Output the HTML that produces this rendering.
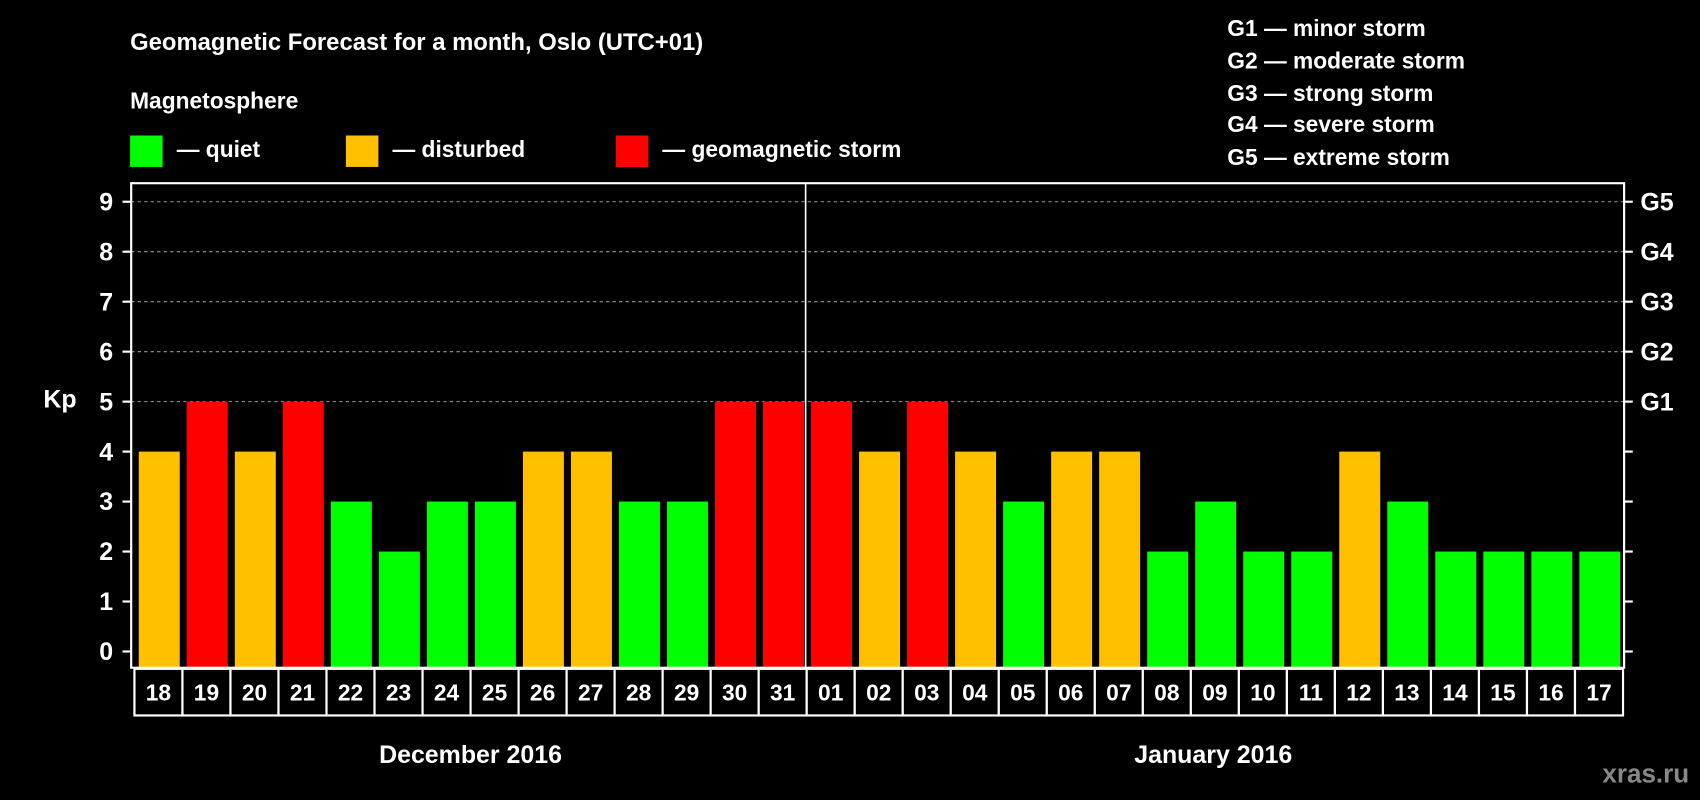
<!DOCTYPE html>
<html><head><meta charset="utf-8"><style>
html,body{margin:0;padding:0;background:#000;}
svg{display:block;font-family:"Liberation Sans",Arial,sans-serif;font-weight:bold;}
</style></head><body>
<svg id="chart" width="1700" height="800" viewBox="0 0 1568 738" preserveAspectRatio="none" xmlns="http://www.w3.org/2000/svg">
<rect x="0" y="0" width="1568" height="738" fill="#000"/>
<text x="120" y="46" fill="#fff" font-size="22">Geomagnetic Forecast for a month, Oslo (UTC+01)</text>
<text x="120" y="100" fill="#fff" font-size="21">Magnetosphere</text>
<g><rect x="120" y="125" width="30" height="29" fill="#00ff00"/><text x="163" y="145" fill="#fff" font-size="21">— quiet</text></g>
<g><rect x="319" y="125" width="30" height="29" fill="#ffc000"/><text x="362" y="145" fill="#fff" font-size="21">— disturbed</text></g>
<g><rect x="568" y="125" width="30" height="29" fill="#ff0000"/><text x="611" y="145" fill="#fff" font-size="21">— geomagnetic storm</text></g>
<g fill="#fff" font-size="21">
<text x="1132" y="33">G1 — minor storm</text>
<text x="1132" y="63">G2 — moderate storm</text>
<text x="1132" y="93">G3 — strong storm</text>
<text x="1132" y="122">G4 — severe storm</text>
<text x="1132" y="152">G5 — extreme storm</text>
</g>
<g id="plot"></g>
<text x="40" y="376" fill="#fff" font-size="23">Kp</text>
<text x="434" y="704" fill="#fff" font-size="23" text-anchor="middle">December 2016</text>
<text x="1119" y="704" fill="#fff" font-size="23" text-anchor="middle">January 2016</text>
<text x="1558" y="722" fill="#888" font-size="24" text-anchor="end">xras.ru</text>
</svg>
<script>
const days = ["18","19","20","21","22","23","24","25","26","27","28","29","30","31","01","02","03","04","05","06","07","08","09","10","11","12","13","14","15","16","17"];
const kpValues = [4,5,4,5,3,2,3,3,4,4,3,3,5,5,5,4,5,4,3,4,4,2,3,2,2,4,3,2,2,2,2];
const yTicks = [0,1,2,3,4,5,6,7,8,9];
const gLabels = ["","","","","","G1","G2","G3","G4","G5"];
const monthBreakIndex = 14;

const NS="http://www.w3.org/2000/svg";
const plot=document.getElementById('plot');
const fx0=121, fx1=1498, fy0=169, fy1=616;
const bx0=124, bx1=1497;
const pitch=(bx1-bx0)/days.length;
function yScale(v){return 601 - v*46.1;}
function xScale(i){return bx0 + i*pitch;}
function mk(tag,attrs){const e=document.createElementNS(NS,tag);for(const k in attrs)e.setAttribute(k,attrs[k]);plot.appendChild(e);return e;}
function color(v){return v>=5?'#ff0000':(v>=4?'#ffc000':'#00ff00');}

// grid lines
yTicks.forEach(t=>{
  if(t>=5){
    const g=mk('line',{x1:fx0,x2:fx1,y1:yScale(t),y2:yScale(t),stroke:'#999','stroke-width':1,'stroke-dasharray':'3,3'});
    
    
  }
});
// bars
kpValues.forEach((v,i)=>{
  const r=mk('rect',{x:xScale(i)+4,y:yScale(v),width:pitch-6.5,height:fy1-yScale(v),fill:color(v)});
  
  
});
// month separator
const sep=mk('line',{x1:xScale(monthBreakIndex)-1,x2:xScale(monthBreakIndex)-1,y1:fy0,y2:fy1,stroke:'#fff','stroke-width':1.5});


// frame
const fr=mk('rect',{x:fx0,y:fy0,width:fx1-fx0,height:fy1-fy0,fill:'none',stroke:'#fff','stroke-width':2});


// ticks and labels
yTicks.forEach(t=>{
  const y=yScale(t);
  const l=mk('line',{x1:113,x2:fx0,y1:y,y2:y,stroke:'#fff','stroke-width':2});
  
  
  const tx=mk('text',{x:98,y:y+8,fill:'#fff','font-size':23,'text-anchor':'middle'});
  tx.textContent=t;
  
  
  const r=mk('line',{x1:fx1,x2:1506,y1:y,y2:y,stroke:'#fff','stroke-width':2});
  
  
  if(gLabels[t]){
    const g=mk('text',{x:1513,y:y+8,fill:'#fff','font-size':23});
    g.textContent=gLabels[t];
    
    
  }
});
// day boxes
days.forEach((d,i)=>{
  const b=mk('rect',{x:xScale(i),y:fy1+1,width:pitch,height:43,fill:'#000',stroke:'#fff','stroke-width':2});
  
  
  const t=mk('text',{x:xScale(i)+pitch/2,y:fy1+30,fill:'#fff','font-size':21,'text-anchor':'middle'});
  t.textContent=d;
  
  
});
</script>
</body></html>
